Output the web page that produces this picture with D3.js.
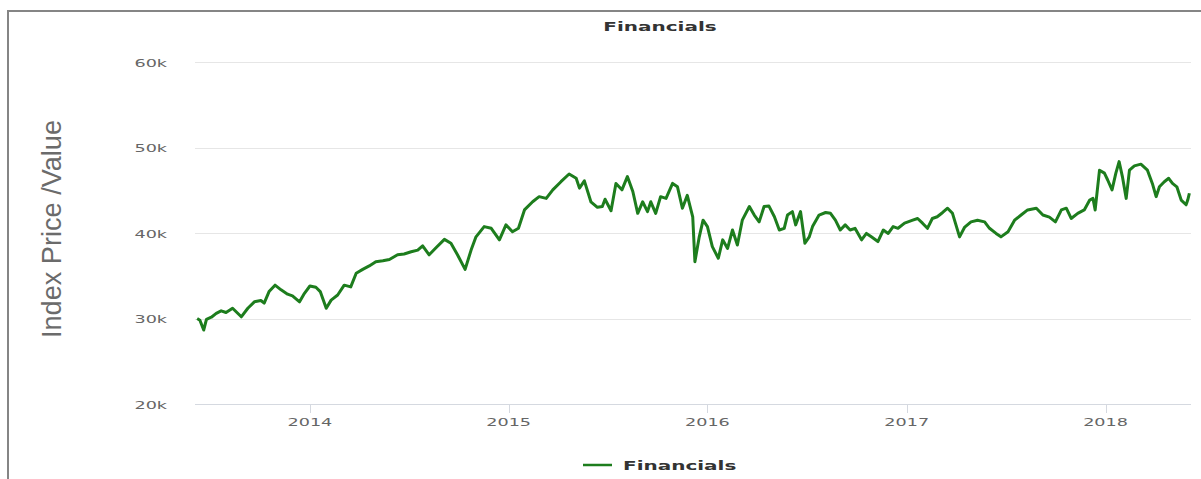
<!DOCTYPE html>
<html><head><meta charset="utf-8">
<script src="https://cdn.jsdelivr.net/npm/d3@7"></script>
<style>html,body{margin:0;padding:0;background:#fff;}svg{display:block}</style>
</head><body><svg id="c" width="1201" height="479"></svg>
<script>
const chartTitle = "Financials";
const yAxisTitle = "Index Price /Value";
const seriesName = "Financials";
const yTicks = [20000, 30000, 40000, 50000, 60000];
const yTickLabels = ["20k", "30k", "40k", "50k", "60k"];
const xTickYears = ["2014", "2015", "2016", "2017", "2018"];
const xDomain = ["2013-06-04", "2018-06-07"];
const dates = [
"2013-06-08","2013-06-13","2013-06-20","2013-06-25","2013-07-04","2013-07-13","2013-07-22","2013-07-31","2013-08-12","2013-08-28",
"2013-09-09","2013-09-21","2013-10-03","2013-10-09","2013-10-18","2013-10-29","2013-11-09","2013-11-21","2013-11-30","2013-12-13",
"2013-12-22","2014-01-01","2014-01-12","2014-01-20","2014-01-31","2014-02-09","2014-02-21","2014-03-05","2014-03-17","2014-03-27",
"2014-04-08","2014-04-20","2014-05-02","2014-05-15","2014-05-27","2014-06-11","2014-06-23","2014-07-06","2014-07-18","2014-07-27",
"2014-08-08","2014-08-21","2014-09-05","2014-09-17","2014-09-29","2014-10-13","2014-10-24","2014-11-02","2014-11-17","2014-11-30",
"2014-12-15","2014-12-27","2015-01-08","2015-01-19","2015-01-30","2015-02-14","2015-02-26","2015-03-11","2015-03-23","2015-04-07",
"2015-04-22","2015-05-05","2015-05-11","2015-05-20","2015-06-01","2015-06-13","2015-06-22","2015-06-27","2015-07-08","2015-07-17",
"2015-07-28","2015-08-07","2015-08-17","2015-08-26","2015-09-04","2015-09-13","2015-09-19","2015-09-28","2015-10-07","2015-10-17",
"2015-10-29","2015-11-07","2015-11-16","2015-11-25","2015-12-05","2015-12-09","2015-12-17","2015-12-24","2016-01-01","2016-01-10",
"2016-01-21","2016-01-29","2016-02-07","2016-02-16","2016-02-25","2016-03-05","2016-03-18","2016-03-27","2016-04-05","2016-04-14",
"2016-04-23","2016-05-03","2016-05-12","2016-05-21","2016-05-27","2016-06-05","2016-06-11","2016-06-20","2016-06-28","2016-07-06",
"2016-07-12","2016-07-24","2016-08-05","2016-08-14","2016-08-23","2016-09-01","2016-09-10","2016-09-19","2016-09-28","2016-10-10",
"2016-10-19","2016-10-28","2016-11-09","2016-11-19","2016-11-28","2016-12-07","2016-12-16","2016-12-28","2017-01-12","2017-01-21",
"2017-01-30","2017-02-08","2017-02-17","2017-02-26","2017-03-08","2017-03-17","2017-03-26","2017-04-08","2017-04-17","2017-04-29",
"2017-05-11","2017-05-24","2017-06-02","2017-06-14","2017-06-23","2017-07-06","2017-07-18","2017-07-30","2017-08-11","2017-08-27",
"2017-09-08","2017-09-20","2017-10-01","2017-10-12","2017-10-21","2017-10-30","2017-11-11","2017-11-23","2017-12-03","2017-12-09",
"2017-12-13","2017-12-21","2017-12-30","2018-01-05","2018-01-13","2018-01-20","2018-01-26","2018-02-01","2018-02-08","2018-02-14",
"2018-02-23","2018-03-07","2018-03-19","2018-03-28","2018-04-04","2018-04-10","2018-04-19","2018-04-27","2018-05-04","2018-05-12",
"2018-05-20","2018-05-29","2018-06-01","2018-06-04"];
const values = [
30000,29800,28650,29900,30150,30600,30900,30700,31200,30200,
31200,31950,32100,31800,33150,33900,33350,32850,32650,31950,
32950,33800,33650,33150,31200,32150,32750,33900,33700,35300,
35750,36150,36650,36750,36900,37450,37550,37800,38000,38500,
37450,38300,39250,38800,37450,35750,38000,39550,40750,40550,
39200,40950,40150,40550,42700,43650,44250,44050,45050,46000,
46900,46400,45250,46100,43650,43000,43100,43950,42600,45800,
45050,46600,44850,42300,43650,42500,43650,42300,44250,44050,
45800,45400,42900,44400,41900,36650,39550,41500,40750,38400,
37050,39200,38200,40350,38600,41500,43100,42100,41300,43100,
43150,41900,40350,40550,42100,42500,40950,42500,38800,39550,
40750,42100,42400,42300,41500,40350,40950,40350,40550,39200,
39950,39550,39000,40350,39950,40750,40550,41150,41500,41700,
41150,40550,41700,41900,42400,42900,42300,39550,40650,41300,
41500,41300,40550,39950,39550,40150,41500,42100,42700,42900,
42100,41850,41300,42700,42900,41700,42300,42700,43850,44050,
42700,47350,47000,46200,45050,47000,48350,46600,44050,47350,
47850,48050,47350,45800,44250,45400,46000,46400,45800,45400,
43850,43300,43850,44650];

const SX = 1.6; // horizontal stretch of the reference picture's text
const svg = d3.select("#c");
const parse = d3.timeParse("%Y-%m-%d");
const data = dates.map((d, i) => ({date: parse(d), value: values[i]}));

const plotLeft = 195, plotRight = 1191, plotTop = 62, plotBottom = 404;
const x = d3.scaleTime().domain(xDomain.map(parse)).range([plotLeft, plotRight]);
const y = d3.scaleLinear().domain([20000, 60000]).range([plotBottom, plotTop]);

// frame
svg.append("path").attr("d", "M8,480 L8,11 L1201,11").attr("fill", "none")
  .attr("stroke", "#858585").attr("stroke-width", 2);

// gridlines
svg.append("g").selectAll("line").data(yTicks).join("line")
  .attr("x1", plotLeft).attr("x2", plotRight)
  .attr("y1", d => Math.round(y(d)) + 0.5).attr("y2", d => Math.round(y(d)) + 0.5)
  .attr("stroke", d => d === 20000 ? "#d5d9e0" : "#e6e6e6").attr("stroke-width", 1);

// y labels
svg.append("g").selectAll("text").data(yTicks).join("text")
  .attr("transform", d => `translate(167,${y(d) + 4.5}) scale(${SX},1)`)
  .attr("text-anchor", "end").attr("font-family", "DejaVu Sans").attr("font-size", 11)
  .attr("fill", "#666").text((d, i) => yTickLabels[i]);

// x axis ticks and labels
const yearDates = xTickYears.map(yr => parse(yr + "-01-01"));
svg.append("g").selectAll("line").data(yearDates).join("line")
  .attr("x1", d => Math.round(x(d)) + 0.5).attr("x2", d => Math.round(x(d)) + 0.5)
  .attr("y1", plotBottom).attr("y2", plotBottom + 9).attr("stroke", "#d5d9e0");
svg.append("g").selectAll("text").data(yearDates).join("text")
  .attr("transform", d => `translate(${x(d)},426) scale(${SX},1)`)
  .attr("text-anchor", "middle").attr("font-family", "DejaVu Sans").attr("font-size", 11)
  .attr("fill", "#666").text((d, i) => xTickYears[i]);

// line
const line = d3.line().x(d => x(d.date)).y(d => y(d.value)).curve(d3.curveLinear);
svg.append("path").datum(data).attr("d", line).attr("fill", "none")
  .attr("stroke", "#1d7d1d").attr("stroke-width", 3).attr("stroke-linejoin", "round");

// title
svg.append("text").attr("transform", `translate(660,31) scale(${SX},1)`)
  .attr("text-anchor", "middle").attr("font-family", "DejaVu Sans").attr("font-weight", "bold")
  .attr("font-size", 12.5).attr("fill", "#333").text(chartTitle);

// y axis title
svg.append("text").attr("transform", "translate(61,229) rotate(-90)")
  .attr("text-anchor", "middle").attr("font-family", "Liberation Sans").attr("font-size", 28)
  .attr("textLength", 218).attr("lengthAdjust", "spacingAndGlyphs")
  .attr("fill", "#6b6b6b").text(yAxisTitle);

// legend
svg.append("line").attr("x1", 583).attr("x2", 612).attr("y1", 465).attr("y2", 465)
  .attr("stroke", "#1d7d1d").attr("stroke-width", 2.5);
svg.append("text").attr("transform", `translate(623,469.5) scale(${SX},1)`)
  .attr("font-family", "DejaVu Sans").attr("font-weight", "bold")
  .attr("font-size", 12.5).attr("fill", "#333").text(seriesName);
</script></body></html>
